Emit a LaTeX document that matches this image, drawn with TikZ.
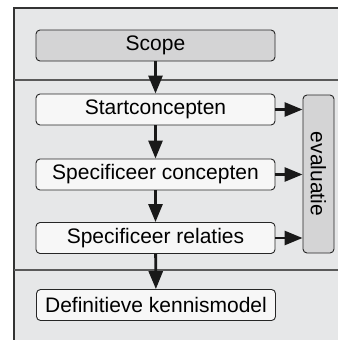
\documentclass[tikz,border=0pt]{standalone}
\usepackage{fontspec}
\setmainfont{Liberation Sans}
\usetikzlibrary{arrows.meta}
\definecolor{panelgray}{HTML}{E6E7E8}
\definecolor{boxgray}{HTML}{D4D4D5}
\definecolor{boxwhite}{HTML}{F7F7F7}
\definecolor{linegray}{HTML}{5A5A5A}
\tikzset{>={Triangle[length=18pt,width=14pt]}}
\tikzset{
  stepbox/.style={draw=black!85,line width=0.9pt,rounded corners=4pt,fill=boxwhite,
    minimum width=239pt,minimum height=31pt,inner sep=0pt,
    font=\fontsize{21}{24}\selectfont},
  flow/.style={->,line width=2.8pt,black!90}
}

\begin{document}
\begin{tikzpicture}[x=1pt,y=-1pt]
            \useasboundingbox (0,0) rectangle (338,340);
            % Draw the panel and its dividers
            \fill[panelgray] (14,8) rectangle (338,340);
            \draw[black!80,line width=1.2pt] (14,340) -- (14,8) -- (338,8);
            \draw[linegray,line width=1.2pt] (14,80) -- (338,80);
            \draw[linegray,line width=1.2pt] (14,270) -- (338,270);

            % Draw the steps
            \node[stepbox,fill=boxgray] (scope) at (155.5,45.5) {Scope};
            \node[stepbox] (start) at (155.5,109.5) {Startconcepten};
            \node[stepbox] (speccon) at (155.5,174.5) {Specificeer concepten};
            \node[stepbox] (specrel) at (155.5,238) {Specificeer relaties};
            \node[stepbox] (defmodel) at (156,305) {Definitieve kennismodel};

            % Evaluation bar on the right
            \node[stepbox,fill=boxgray,rotate=-90,minimum width=158pt,minimum height=31pt] (eval) at (318.5,174) {evaluatie};

            % Draw arrows down the steps
            \draw[flow] (scope) -- (start);
            \draw[flow] (start) -- (speccon);
            \draw[flow] (speccon) -- (specrel);
            \draw[flow] (specrel) -- (defmodel);

            % Draw arrows to the evaluation
            \draw[flow] (start.east) -- (start.east -| eval.south);
            \draw[flow] (speccon.east) -- (speccon.east -| eval.south);
            \draw[flow] (specrel.east) -- (specrel.east -| eval.south);
          \end{tikzpicture}
\end{document}
